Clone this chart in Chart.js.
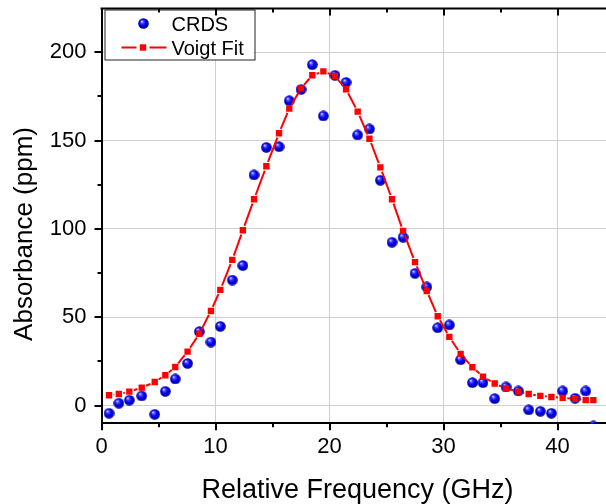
<!DOCTYPE html>
<html>
<head>
<meta charset="utf-8">
<script src="https://cdn.jsdelivr.net/npm/chart.js@4/dist/chart.umd.min.js"></script>
<style>
html,body{margin:0;padding:0;background:#fff;}
#wrap{width:606px;height:504px;position:relative;}
</style>
</head>
<body>
<div id="wrap"><canvas id="c" width="606" height="504"></canvas></div>
<script>
// ---- data ----
const frequencyGHz = [0.66, 1.52, 2.44, 3.53, 4.67, 5.60, 6.47, 7.55, 8.58, 9.60, 10.42, 11.47, 12.40, 13.38, 14.46, 15.57, 16.47, 17.50, 18.49, 19.46, 20.48, 21.45, 22.47, 23.50, 24.46, 25.48, 26.45, 27.50, 28.53, 29.49, 30.51, 31.50, 32.53, 33.46, 34.49, 35.48, 36.56, 37.47, 38.49, 39.46, 40.45, 41.54, 42.47, 43.14];
const crdsPpm = [-4.3, 1.4, 3.1, 5.5, -4.9, 8.1, 15.1, 23.9, 41.9, 36.0, 44.9, 71.1, 79.3, 130.6, 146.2, 146.6, 172.6, 179, 193, 164, 187, 183, 153.2, 156.6, 127.6, 92.5, 95.3, 74.9, 67.2, 44.1, 45.7, 26, 13, 13, 4, 10.6, 8.3, -2.4, -3.2, -4.3, 8.3, 4.2, 8.3, -11.5];
const voigtFitPpm = [5.9, 6.6, 7.9, 10.2, 13.4, 17.2, 21.9, 30.6, 40.7, 53.6, 65.5, 82.5, 99.3, 116.8, 135.5, 154.2, 168.1, 179.6, 187, 189.2, 186.6, 179.1, 166.4, 151.1, 134.9, 116.8, 98.9, 81.2, 64.9, 50.6, 38.9, 29.3, 21.7, 16.4, 12.5, 9.8, 7.9, 6.6, 5.5, 4.9, 4.4, 3.8, 3.2, 3.1];
const xTickLabels = [0, 10, 20, 30, 40];
const yTickLabels = [0, 50, 100, 150, 200];
const seriesNames = ['CRDS', 'Voigt Fit'];
const xTitle = 'Relative Frequency (GHz)';
const yTitle = 'Absorbance (ppm)';

const FONT = "'Liberation Sans', Arial, sans-serif";
Chart.defaults.font.family = FONT;
Chart.defaults.color = '#000';

function makeSphere(d) {
  const c = document.createElement('canvas');
  c.width = d; c.height = d;
  const g = c.getContext('2d');
  const r = d / 2;
  const grad = g.createRadialGradient(r * 0.68, r * 0.6, r * 0.05, r, r, r);
  grad.addColorStop(0, '#e6e6ff');
  grad.addColorStop(0.22, '#5050ff');
  grad.addColorStop(0.55, '#0000f4');
  grad.addColorStop(1, '#000090');
  g.fillStyle = grad;
  g.beginPath(); g.arc(r, r, r - 0.2, 0, Math.PI * 2); g.fill();
  return c;
}
const sphere = makeSphere(11);
const GAP = 4.6;

const crdsPoints = frequencyGHz.map((x, i) => ({x, y: crdsPpm[i]}));
const fitPoints = frequencyGHz.map((x, i) => ({x, y: voigtFitPpm[i]}));

function isMajorX(v){ return xTickLabels.includes(v); }
function isMajorY(v){ return yTickLabels.includes(v); }

const axisDecor = {
  id: 'axisDecor',
  afterDraw(chart) {
    const {ctx, chartArea: a, scales: {x, y}} = chart;
    ctx.save();
    ctx.strokeStyle = '#000';
    ctx.lineWidth = 2;
    // top axis line
    ctx.beginPath(); ctx.moveTo(a.left - 1, a.top); ctx.lineTo(a.right, a.top); ctx.stroke();
    ctx.beginPath();
    for (const t of x.ticks) {
      const px = Math.round(x.getPixelForValue(t.value));
      const len = isMajorX(t.value) ? 7 : 4;
      ctx.moveTo(px, a.bottom); ctx.lineTo(px, a.bottom + len);
      ctx.moveTo(px, a.top); ctx.lineTo(px, a.top + len);
    }
    for (const t of y.ticks) {
      const py = Math.round(y.getPixelForValue(t.value));
      const len = isMajorY(t.value) ? 7 : 4;
      ctx.moveTo(a.left, py); ctx.lineTo(a.left - len, py);
    }
    ctx.stroke();
    ctx.restore();
  },
  afterDatasetsDraw(chart) {
    const {ctx, chartArea: a} = chart;
    const ds = chart.data.datasets;
    ctx.save();
    // legend box
    const bx = a.left + 3, by = a.top + 1, bw = 150, bh = 50;
    ctx.fillStyle = '#fff';
    ctx.fillRect(bx, by, bw, bh);
    ctx.strokeStyle = '#222';
    ctx.lineWidth = 1;
    ctx.strokeRect(bx + 0.5, by + 0.5, bw, bh);
    // CRDS
    ctx.drawImage(sphere, bx + 39 - sphere.width / 2, by + 14 - sphere.height / 2);
    ctx.fillStyle = '#000';
    ctx.font = '20px ' + FONT;
    ctx.textBaseline = 'alphabetic';
    ctx.textAlign = 'left';
    ctx.fillText(ds[0].label, bx + 67, by + 21);
    // Voigt fit
    const ly = by + 38;
    ctx.strokeStyle = '#ff0000';
    ctx.lineWidth = 2;
    ctx.beginPath();
    ctx.moveTo(bx + 17, ly); ctx.lineTo(bx + 32, ly);
    ctx.moveTo(bx + 45, ly); ctx.lineTo(bx + 62, ly);
    ctx.stroke();
    ctx.fillStyle = '#ff0000';
    ctx.fillRect(bx + 38.5 - 3.2, ly - 3.2, 6.4, 6.4);
    ctx.fillStyle = '#000';
    ctx.fillText(ds[1].label, bx + 67, by + 45);
    ctx.restore();
  }
};

new Chart(document.getElementById('c'), {
  type: 'scatter',
  data: {
    datasets: [
      {
        label: seriesNames[0],
        data: crdsPoints,
        pointStyle: sphere,
        pointRadius: 5.5,
        showLine: false,
        clip: 0,
        order: 2
      },
      {
        label: seriesNames[1],
        data: fitPoints,
        showLine: true,
        borderColor: '#ff0000',
        borderWidth: 2,
        tension: 0,
        pointStyle: 'rect',
        pointRadius: 4.5,
        pointBackgroundColor: '#ff0000',
        pointBorderWidth: 0,
        order: 1,
        segment: {
          borderDash: c => {
            const L = Math.hypot(c.p1.x - c.p0.x, c.p1.y - c.p0.y);
            return [Math.max(L - 2 * GAP, 0.01), 2 * GAP];
          },
          borderDashOffset: c => -GAP
        }
      }
    ]
  },
  options: {
    responsive: false,
    animation: false,
    devicePixelRatio: 1,
    events: [],
    layout: {autoPadding: false, padding: {top: 8.5, right: 0, left: 0, bottom: 0}},
    plugins: {legend: {display: false}, tooltip: {enabled: false}},
    scales: {
      x: {
        type: 'linear',
        min: 0,
        max: 44.25,
        afterFit: s => { s.height = 80.7; s.paddingLeft = 0; s.paddingRight = 0; },
        grid: {
          color: c => (c.tick && isMajorX(c.tick.value)) ? '#cfcfcf' : 'rgba(0,0,0,0)',
          lineWidth: 1,
          drawTicks: false
        },
        border: {display: true, color: '#000', width: 2},
        ticks: {
          stepSize: 5,
          includeBounds: false,
          autoSkip: false,
          maxRotation: 0,
          padding: 10,
          font: {size: 22},
          color: '#000',
          callback: v => isMajorX(v) ? String(v) : ''
        },
        title: {
          display: true,
          text: '\u00a0' + xTitle,
          font: {size: 27, lineHeight: 1},
          color: '#000',
          padding: {top: 0, bottom: 0}
        }
      },
      y: {
        type: 'linear',
        min: -10,
        max: 224.8,
        afterFit: s => { s.width = 101.5; s.paddingTop = 0; s.paddingBottom = 0; },
        grid: {
          color: c => (c.tick && isMajorY(c.tick.value)) ? '#cfcfcf' : 'rgba(0,0,0,0)',
          lineWidth: 1,
          drawTicks: false
        },
        border: {display: true, color: '#000', width: 2},
        ticks: {
          stepSize: 25,
          includeBounds: false,
          autoSkip: false,
          padding: 15,
          font: {size: 22},
          color: '#000',
          callback: v => isMajorY(v) ? String(v) : ''
        },
        title: {
          display: true,
          text: yTitle + '\u00a0\u00a0\u00a0\u00a0\u00a0',
          font: {size: 26, lineHeight: 1},
          color: '#000',
          padding: {top: 12, bottom: 0}
        }
      }
    }
  },
  plugins: [axisDecor]
});
</script>
</body>
</html>
